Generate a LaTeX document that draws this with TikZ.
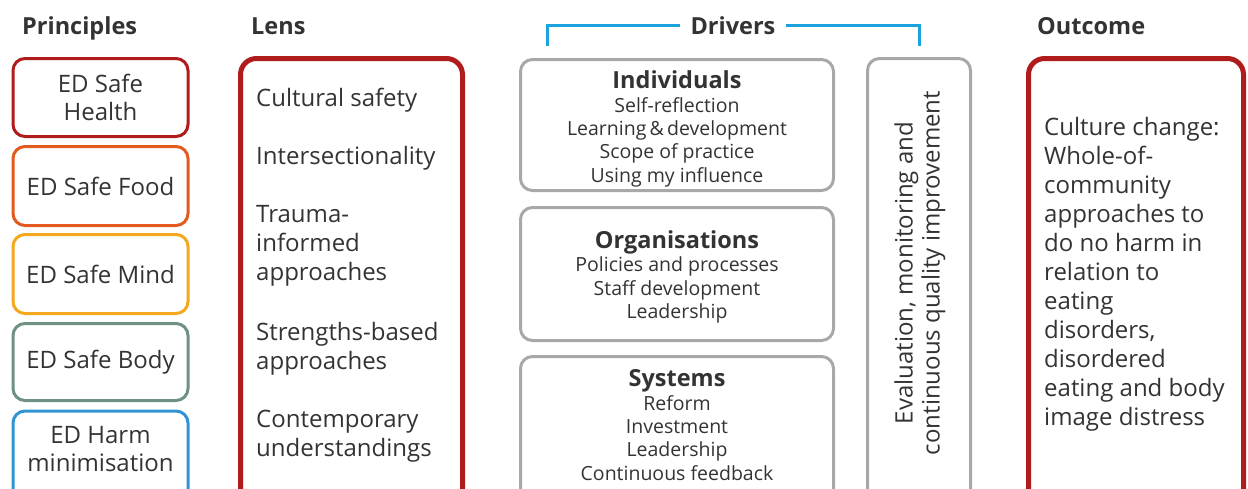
\documentclass[tikz,border=0pt]{standalone}
\usepackage{fontspec}
\setmainfont{Open Sans}
\definecolor{txt}{HTML}{333333}
\definecolor{cHealth}{HTML}{B01C1C}
\definecolor{cFood}{HTML}{E35A1E}
\definecolor{cMind}{HTML}{F4A81D}
\definecolor{cBody}{HTML}{6E9181}
\definecolor{cHarm}{HTML}{2E94D2}
\definecolor{cLens}{HTML}{B01C1C}
\definecolor{cGray}{HTML}{A8A8A8}
\definecolor{cBlue}{HTML}{1BA3DD}
\newcommand\drvtitle{\fontsize{23.5}{23.3}\selectfont\bfseries}
\begin{document}
\begin{tikzpicture}[x=1pt,y=-1pt,
  every node/.style={text=txt, inner sep=0pt},
  hdr/.style={font=\fontsize{23.5}{28}\selectfont\bfseries, anchor=base west},
  pbox/.style={draw=#1, line width=3pt, rounded corners=12pt, minimum width=175pt, align=center, font=\fontsize{24}{28}\selectfont},
  bigbox/.style={draw=#1, line width=5pt, rounded corners=16pt},
  gbox/.style={draw=cGray, line width=3pt, rounded corners=12pt},
  lens/.style={anchor=west, align=left, font=\fontsize{24}{29}\selectfont},
  drv/.style={align=center, font=\fontsize{19.5}{23.3}\selectfont},
]
\useasboundingbox (0,0) rectangle (1248,488);
\clip (0,0) rectangle (1248,488);

% headers
\node[hdr] (hP) at (22,34) {Principles};
\node[hdr] (hL) at (251,34) {Lens};
\node[hdr, anchor=base] (hD) at (733,34) {Drivers};
\node[hdr] (hO) at (1037,34) {Outcome};

% drivers bracket
\coordinate (bl) at (547,46);
\coordinate (br) at (919,46);
\draw[cBlue, line width=3pt] (bl) |- ([xshift=-10pt]hD.west);
\draw[cBlue, line width=3pt] (br) |- ([xshift=10pt]hD.east);

% principles
\node[pbox=cHealth, minimum height=78pt] (health) at (100.5,97.5) {ED Safe\\Health};
\node[pbox=cFood, minimum height=79pt] (food) at (100.5,186) {ED Safe Food};
\node[pbox=cMind, minimum height=79pt] (mind) at (100.5,274) {ED Safe Mind};
\node[pbox=cBody, minimum height=77pt] (body) at (100.5,362) {ED Safe Body};
\node[pbox=cHarm, minimum height=90pt] (harm) at (100.5,456) {};
\node[align=center, font=\fontsize{24}{28}\selectfont] (harmt) at (100.5,449.5) {ED Harm\\minimisation};

% lens
\node[bigbox=cLens, minimum width=222pt, minimum height=452pt] (lensbox) at (351.5,284.5) {};
\node[lens] (l1) at (256,100.5) {Cultural safety};
\node[lens] (l2) at (256,158.5) {Intersectionality};
\node[lens] (l3) at (256,245.5) {Trauma-\\informed\\approaches};
\node[lens] (l4) at (256,348.5) {Strengths-based\\approaches};
\node[lens] (l5) at (256,436.5) {Contemporary\\understandings};

% drivers
\node[gbox, minimum width=313pt, minimum height=131pt] (ind) at (677,125) {};
\node[drv] (indt) at (677,129) {{\drvtitle Individuals}\\Self-reflection\\Learning\,\&\,development\\Scope of practice\\Using my influence};
\node[gbox, minimum width=313pt, minimum height=133pt] (org) at (677,274) {};
\node[drv] (orgt) at (677,277) {{\drvtitle Organisations}\\Policies and processes\\Staff development\\Leadership};
\node[gbox, minimum width=313pt, minimum height=150pt] (sys) at (677,431.5) {};
\node[drv] (syst) at (677,425) {{\drvtitle Systems}\\Reform\\Investment\\Leadership\\Continuous feedback};

\node[gbox, minimum width=103pt, minimum height=447pt] (eval) at (919,282) {};
\node[align=center, rotate=90, font=\fontsize{24}{27}\selectfont] (evalt) at (920,273) {Evaluation, monitoring and\\continuous quality improvement};

% outcome
\node[bigbox=cLens, minimum width=215pt, minimum height=447pt] (out) at (1136,282) {};
\node[anchor=north west, align=left, font=\fontsize{24}{29}\selectfont] (outt) at (1044,117) {Culture change:\\Whole-of-\\community\\approaches to\\do no harm in\\relation to\\eating\\disorders,\\disordered\\eating and body\\image distress};
\end{tikzpicture}
\end{document}
